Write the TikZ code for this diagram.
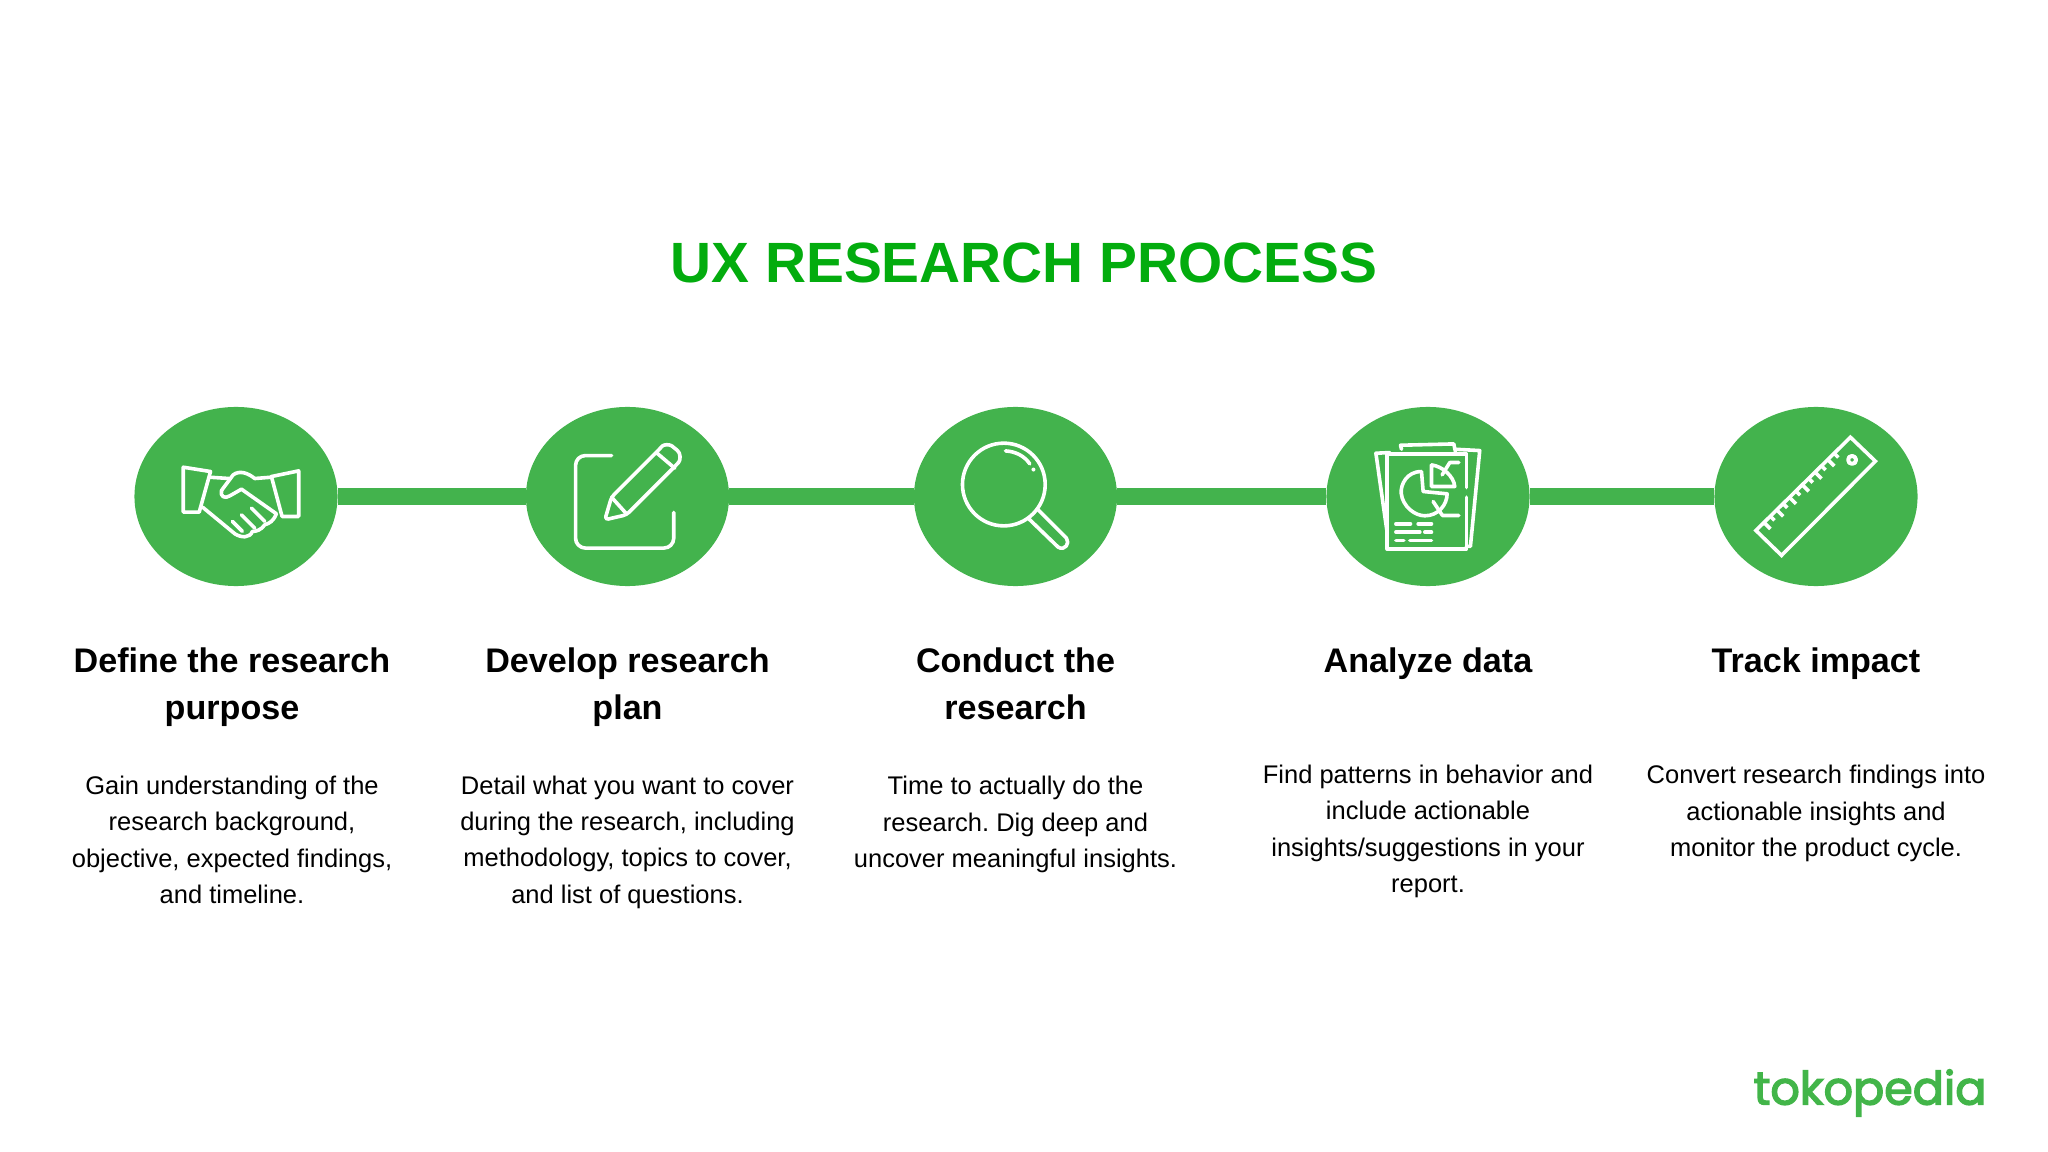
\documentclass[tikz,border=0pt]{standalone}
\usepackage{fontspec}
\setmainfont{Liberation Sans}
\newfontfamily\logofont[FakeBold=3]{Poppins}
\usetikzlibrary{shapes.geometric}
\definecolor{stepgreen}{HTML}{43B34D}
\definecolor{titlegreen}{HTML}{03AC0E}
\definecolor{logogreen}{HTML}{42B549}
\frenchspacing
\tikzset{
	stepdisc/.style={ellipse, fill=stepgreen, minimum width=2.03cm, minimum height=1.79cm, inner sep=0pt, outer sep=0pt},
	linkline/.style={stepgreen, line width=0.17cm},
	iconline/.style={white, line width=0.036cm, line cap=round, line join=round},
	headtext/.style={align=center, font=\fontsize{9.7}{13.35}\selectfont\bfseries},
	bodytext/.style={align=center, font=\fontsize{7.25}{10.35}\selectfont},
}
\begin{document}
\begin{tikzpicture}[x=0.01cm, y=-0.01cm]
\useasboundingbox (0,0) rectangle (2048,1152);
\node[font=\fontsize{16.15}{18}\selectfont\bfseries, text=titlegreen] (title) at (1024,263) {UX RESEARCH PROCESS};
%========================
% Discs and links
%========================
\node[stepdisc] (define) at (236,496.5) {};
\node[stepdisc] (develop) at (627.5,496.5) {};
\node[stepdisc] (conduct) at (1015.5,496.5) {};
\node[stepdisc] (analyze) at (1428,496.5) {};
\node[stepdisc] (track) at (1816,496.5) {};
\draw[linkline] (define) -- (develop);
\draw[linkline] (develop) -- (conduct);
\draw[linkline] (conduct) -- (analyze);
\draw[linkline] (analyze) -- (track);

%========================
% Icons
%========================
% handshake
\begin{scope}[shift={(120,390)}, x=0.00333cm, y=-0.00333cm, iconline]
	\draw (190,232) -- (272,245) -- (238,367) -- (190,367) -- cycle;
	\draw (537,243) -- (455,260) -- (487,380) -- (537,380) -- cycle;
	\draw (268,262) -- (328,266);
	\draw (455,262) -- (405,266) .. controls (385,250) and (360,240) .. (340,255) -- (305,302)
		.. controls (300,320) and (315,328) .. (330,318) -- (365,298) -- (470,372)
		.. controls (460,395) and (450,400) .. (435,405) .. controls (425,420) and (410,425) .. (398,425)
		.. controls (390,445) and (365,445) .. (345,432) -- (248,352);
	\draw (338,395) -- (368,425);
	\draw (365,375) -- (405,415);
	\draw (395,355) -- (435,395);
\end{scope}
% pencil and sheet
\begin{scope}[shift={(510,390)}, x=0.00333cm, y=-0.00333cm, iconline]
	\draw[rounded corners=2.8pt] (305,197) -- (197,197) -- (197,475) -- (492,475) -- (492,368);
	\draw[rounded corners=1pt] (285,390) -- (305,322) -- (450,177)
		.. controls (462,163) and (480,163) .. (495,175) .. controls (513,190) and (513,210) .. (500,225)
		-- (350,375) -- cycle;
	\draw (305,322) -- (350,372);
	\draw (442,190) -- (495,235);
\end{scope}
% magnifier
\begin{scope}[shift={(900,390)}, x=0.00333cm, y=-0.00333cm, iconline]
	\draw (312,284) circle (1.24cm/3);
	\draw (415,360) -- (500,445) .. controls (512,460) and (495,485) .. (475,472) -- (388,388);
	\draw (317,183) .. controls (350,185) and (375,200) .. (390,222);
	\fill (401,239) circle (0.02cm);
\end{scope}
% report
\begin{scope}[shift={(1310,390)}, x=0.00333cm, y=-0.00333cm, iconline]
	\draw (470,293) -- (470,193) -- (232,193) -- (232,478) -- (470,478) -- (470,322);
	\draw (240,188) -- (198,190) -- (232,430);
	\draw (435,178) -- (510,182) -- (482,470) -- (470,470);
	\draw (275,178) -- (272,166) -- (432,162) -- (437,185);
	\draw (335,245) .. controls (290,245) and (272,285) .. (274,310) .. controls (278,350) and (315,378) .. (345,378)
		.. controls (385,378) and (412,345) .. (412,312) -- (340,305) -- cycle;
	\draw (365,225) -- (365,290) -- (435,290) .. controls (432,260) and (400,230) .. (365,225);
	\draw (397,255) -- (420,218) -- (447,218);
	\draw (370,335) -- (398,377) -- (447,377);
	\draw (258,402) -- (302,402) (325,402) -- (365,402);
	\draw (258,427) -- (330,427) (345,427) -- (365,427);
	\draw (258,452) -- (282,452) (300,452) -- (365,452);
\end{scope}
% ruler
\begin{scope}[shift={(1700,390)}, x=0.00333cm, y=-0.00333cm, iconline]
	\draw[line cap=butt, line join=miter] (452,142) -- (527,214) -- (245,497) -- (168,422) -- cycle;
	\draw[line width=0.04cm] (457,210) circle (0.04cm);
	\foreach \i in {0,...,11} {
		\pgfmathsetmacro{\tlen}{ifthenelse(mod(\i,2)==0,28,18)}
		\draw[line cap=butt] ({192+\i*19.2},{398-\i*18.9}) -- ++({0.7*\tlen},{0.7*\tlen});
	}
\end{scope}

%========================
% Labels
%========================
\node[headtext] (definehead) at (232,687.2) {Define the research\\purpose};
\node[headtext] (develophead) at (627.5,687.2) {Develop research\\plan};
\node[headtext] (conducthead) at (1015.5,684.2) {Conduct the\\research};
\node[headtext] (analyzehead) at (1428,663.8) {Analyze data};
\node[headtext] (trackhead) at (1816,663.8) {Track impact};

\node[bodytext] (definebody) at (232,840) {Gain understanding of the\\research background,\\objective, expected findings,\\and timeline.};
\node[bodytext] (developbody) at (627.5,842) {Detail what you want to cover\\during the research, including\\methodology, topics to cover,\\and list of questions.};
\node[bodytext] (conductbody) at (1015.5,824.5) {Time to actually do the\\research. Dig deep and\\uncover meaningful insights.};
\node[bodytext] (analyzebody) at (1428,831.6) {Find patterns in behavior and\\include actionable\\insights/suggestions in your\\report.};
\node[bodytext] (trackbody) at (1816,813.6) {Convert research findings into\\actionable insights and\\monitor the product cycle.};

% logo
\node[text=logogreen, font=\fontsize{13.1}{16}\selectfont\logofont] (logo) at (1870,1093) {tokopedia};
\end{tikzpicture}
\end{document}
